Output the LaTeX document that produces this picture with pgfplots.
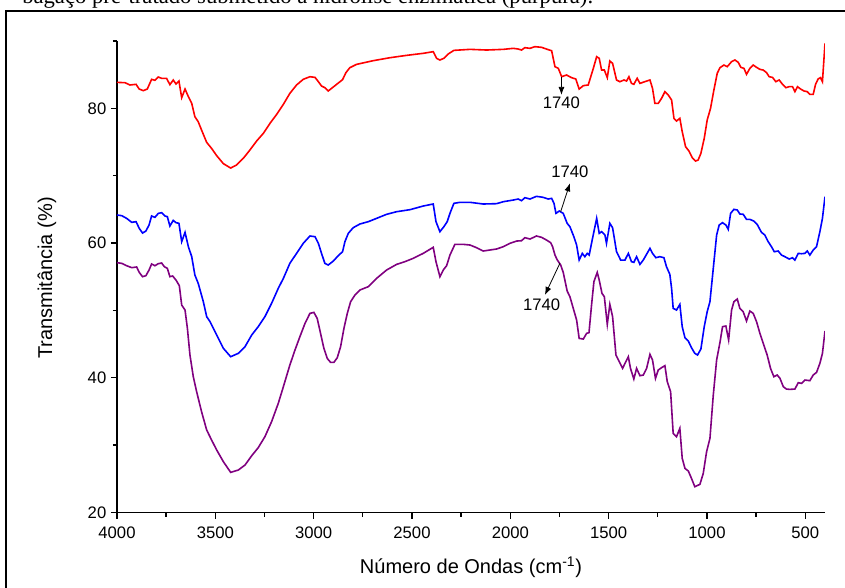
\documentclass[border=0pt]{standalone}
\usepackage{fontspec}
\setmainfont{Liberation Sans}
\newfontfamily\timesfont{Liberation Serif}
\usepackage{pgfplots}
\pgfplotsset{compat=1.18}
\usetikzlibrary{arrows.meta}
\definecolor{myred}{RGB}{255,0,0}
\definecolor{myblue}{RGB}{0,0,255}
\definecolor{mypurple}{RGB}{128,0,128}
\begin{document}
\begin{tikzpicture}
\useasboundingbox (0,0) rectangle (633.75pt,440.25pt);
\fill[white] (0,0) rectangle (633.75pt,440.25pt);
\node[anchor=base west, inner sep=0pt, font=\timesfont\fontsize{17}{20}\selectfont] at (16.5pt,437.25pt) {bagaço pré-tratado submetido à hidrólise enzimática (púrpura).};
\draw[line width=1.5pt] (4.5pt,-10pt) |- (645pt,432pt);
\begin{axis}[
  at={(87.75pt,55.875pt)}, anchor=south west, scale only axis,
  width=531pt, height=353.625pt,
  xmin=400, xmax=4000, ymin=20, ymax=90, x dir=reverse,
  axis x line*=bottom, axis y line*=left,
  axis line style={line width=1pt, -},
  xtick={500,1000,...,4000}, minor xtick={750,1250,...,3750},
  ytick={20,40,60,80}, minor ytick={30,50,70,90},
  tick align=outside, major tick length=4.5pt, minor tick length=3pt,
  every tick/.style={black, line width=1pt},
  ticklabel style={font=\fontsize{12.5}{14}\selectfont},
  xticklabel style={yshift=-3pt},
  /pgf/number format/assume math mode=true,
  /pgf/number format/1000 sep={},
]
\addplot[myred, line width=1.2pt] coordinates {(4000,83.86)(3959,83.81)(3934,83.47)(3903,83.57)(3887,82.87)(3866,82.63)(3846,82.87)(3824,84.31)(3807,84.16)(3790,84.65)(3773,84.46)(3748,84.46)(3731,83.52)(3714,84.21)(3700,83.62)(3685,84.06)(3671,81.59)(3654,82.87)(3637,81.73)(3620,80.74)(3604,78.76)(3587,78.02)(3570,76.78)(3544,74.95)(3519,74.06)(3493,72.97)(3459,71.79)(3422,71.14)(3392,71.59)(3358,72.58)(3324,73.82)(3290,75.15)(3256,76.29)(3222,77.78)(3188,79.11)(3154,80.60)(3121,82.23)(3087,83.47)(3053,84.31)(3019,84.70)(2993,84.60)(2976,83.96)(2960,83.32)(2943,83.07)(2926,82.58)(2909,82.97)(2883,83.57)(2853,84.26)(2836,85.30)(2816,86.04)(2782,86.53)(2697,87.08)(2612,87.52)(2527,87.87)(2443,88.17)(2392,88.42)(2375,87.43)(2358,87.18)(2338,87.43)(2316,88.07)(2287,88.61)(2205,88.76)(2121,88.66)(2036,88.76)(1985,88.91)(1960,88.81)(1943,88.66)(1926,89.01)(1900,88.91)(1875,89.16)(1841,89.06)(1807,88.71)(1790,88.56)(1773,86.19)(1756,85.94)(1739,84.70)(1714,84.95)(1689,84.56)(1667,84.36)(1650,82.87)(1629,83.37)(1604,83.47)(1578,85.94)(1561,87.67)(1548,87.43)(1536,85.69)(1522,85.69)(1507,84.56)(1494,87.03)(1480,86.68)(1460,84.21)(1443,83.96)(1422,84.21)(1409,84.06)(1397,84.70)(1384,83.71)(1372,83.57)(1355,84.46)(1341,83.71)(1316,83.96)(1290,84.21)(1277,82.97)(1265,80.74)(1248,80.74)(1231,81.49)(1214,82.48)(1197,81.98)(1180,81.24)(1168,78.52)(1155,78.12)(1138,78.52)(1126,76.54)(1109,74.31)(1092,73.67)(1075,72.68)(1058,72.18)(1045,72.33)(1031,73.32)(1014,75.55)(999,78.27)(982,80.00)(965,82.72)(948,85.20)(934,86.04)(914,86.43)(897,86.19)(875,86.93)(858,87.18)(841,86.83)(828,86.09)(812,85.94)(799,85.05)(782,85.94)(765,86.43)(748,86.09)(731,85.79)(714,85.69)(697,85.30)(684,84.70)(667,84.60)(650,83.96)(633,84.21)(616,83.57)(599,83.07)(582,83.22)(565,83.22)(553,82.48)(540,83.22)(524,82.87)(507,82.58)(490,82.48)(477,82.08)(460,82.08)(448,83.57)(435,84.36)(423,84.56)(413,83.96)(400,89.65)};
\addplot[myblue, line width=1.2pt] coordinates {(4000,64.17)(3976,64.07)(3951,63.67)(3925,63.08)(3903,63.18)(3887,62.19)(3870,61.49)(3853,61.79)(3837,62.68)(3824,64.02)(3807,63.82)(3790,64.41)(3773,64.51)(3756,64.02)(3744,63.92)(3731,62.53)(3714,63.37)(3700,63.03)(3685,62.93)(3671,60.21)(3654,61.59)(3637,59.46)(3620,57.98)(3604,55.26)(3587,54.02)(3561,51.30)(3544,49.07)(3527,48.33)(3493,46.35)(3459,44.37)(3422,43.13)(3383,43.63)(3349,44.62)(3315,46.35)(3282,47.59)(3248,49.07)(3214,51.05)(3180,53.28)(3154,54.76)(3121,56.99)(3087,58.47)(3053,59.96)(3019,61.05)(2993,60.95)(2976,59.96)(2960,58.47)(2943,56.99)(2926,56.74)(2900,57.33)(2875,58.13)(2853,58.72)(2841,60.21)(2824,61.44)(2799,62.28)(2765,62.83)(2722,63.18)(2680,63.67)(2629,64.27)(2578,64.66)(2510,64.96)(2443,65.50)(2392,65.80)(2378,63.18)(2358,61.69)(2338,62.43)(2321,63.18)(2307,64.41)(2287,65.90)(2256,66.05)(2205,66.05)(2138,65.80)(2070,65.85)(2036,66.14)(1985,66.39)(1960,66.54)(1943,66.29)(1926,66.74)(1900,66.54)(1867,66.94)(1833,66.79)(1807,66.54)(1790,66.64)(1778,65.90)(1768,64.41)(1751,64.76)(1731,64.41)(1711,62.93)(1697,62.43)(1677,60.95)(1663,59.71)(1650,57.48)(1634,58.47)(1621,57.98)(1609,58.47)(1599,58.22)(1582,60.70)(1561,63.67)(1548,61.44)(1536,61.69)(1519,61.20)(1511,59.96)(1494,62.93)(1480,62.28)(1460,58.72)(1439,57.48)(1417,57.48)(1400,58.47)(1384,57.24)(1372,57.14)(1358,57.98)(1341,56.84)(1324,57.48)(1290,59.22)(1277,58.47)(1260,57.83)(1240,57.98)(1219,57.83)(1206,56.49)(1189,55.36)(1180,53.28)(1172,50.31)(1155,50.06)(1138,50.90)(1126,47.59)(1112,45.95)(1095,45.46)(1079,44.47)(1062,43.63)(1048,43.38)(1031,44.27)(1014,47.59)(999,49.81)(985,51.30)(968,56.25)(951,61.20)(938,62.68)(921,63.03)(904,62.68)(892,62.04)(880,64.41)(863,65.01)(846,64.91)(833,64.32)(816,64.27)(799,63.52)(782,63.52)(762,63.27)(745,62.78)(723,61.59)(706,61.20)(689,60.21)(672,59.46)(658,58.72)(638,58.82)(621,58.22)(604,57.98)(582,57.63)(565,57.83)(553,57.48)(536,58.47)(519,58.42)(502,58.47)(490,58.82)(477,58.22)(460,58.97)(443,59.46)(426,61.69)(413,63.67)(400,66.89)};
\addplot[mypurple, line width=1.2pt] coordinates {(4000,57.09)(3976,56.99)(3951,56.64)(3925,56.35)(3900,56.45)(3887,55.65)(3870,55.01)(3853,55.16)(3837,56.00)(3824,56.89)(3807,56.64)(3790,56.94)(3773,57.04)(3759,56.49)(3744,56.25)(3731,55.01)(3717,55.11)(3700,54.51)(3683,53.67)(3671,50.80)(3654,50.06)(3642,47.34)(3629,43.38)(3612,40.16)(3595,37.93)(3570,34.97)(3544,32.25)(3519,30.76)(3493,29.28)(3459,27.54)(3422,25.96)(3383,26.31)(3349,27.05)(3315,28.43)(3282,29.62)(3248,31.25)(3214,33.48)(3180,36.20)(3154,38.68)(3121,41.89)(3095,44.12)(3070,46.10)(3044,48.08)(3019,49.56)(2999,49.71)(2982,48.82)(2965,46.60)(2948,44.37)(2931,42.88)(2914,42.29)(2897,42.29)(2880,42.98)(2863,44.62)(2846,47.34)(2829,49.56)(2812,51.30)(2790,52.29)(2765,53.03)(2722,53.53)(2680,54.76)(2629,56.00)(2578,56.84)(2536,57.24)(2494,57.73)(2443,58.47)(2392,59.37)(2378,57.24)(2358,55.01)(2341,56.00)(2324,56.64)(2307,58.22)(2282,59.81)(2239,59.81)(2205,59.71)(2172,59.32)(2138,58.82)(2104,58.97)(2070,59.12)(2036,59.46)(2002,59.96)(1968,60.30)(1943,60.35)(1926,60.80)(1900,60.60)(1867,61.05)(1841,60.85)(1816,60.45)(1795,60.06)(1785,59.46)(1773,58.22)(1761,57.48)(1744,56.74)(1731,55.65)(1711,52.88)(1697,52.04)(1680,50.31)(1663,48.58)(1650,45.85)(1629,45.75)(1612,46.60)(1600,46.70)(1587,50.80)(1575,54.27)(1558,55.65)(1548,54.51)(1534,52.54)(1522,52.04)(1507,47.93)(1494,50.90)(1480,49.07)(1463,43.38)(1446,42.39)(1429,41.40)(1417,42.14)(1400,43.13)(1389,41.40)(1372,39.82)(1358,41.40)(1341,40.31)(1324,40.41)(1307,41.40)(1290,43.48)(1277,42.64)(1262,39.92)(1248,41.15)(1231,41.50)(1214,41.80)(1202,39.42)(1185,37.93)(1172,31.75)(1155,31.25)(1138,32.49)(1126,28.04)(1112,26.55)(1095,26.16)(1079,25.07)(1062,23.83)(1036,24.18)(1019,25.81)(1002,29.03)(985,31.01)(968,37.44)(951,42.64)(934,45.26)(921,47.59)(904,47.69)(890,45.61)(875,50.06)(863,51.30)(846,51.69)(833,50.31)(816,49.81)(799,48.43)(782,49.91)(765,49.56)(748,48.33)(731,46.60)(714,45.11)(694,43.38)(677,41.40)(660,40.16)(643,40.41)(629,39.92)(612,38.68)(596,38.33)(579,38.28)(553,38.33)(536,39.27)(519,39.17)(502,39.67)(477,39.57)(460,40.41)(443,40.80)(426,42.14)(413,43.63)(400,46.94)};
\draw[-{Latex[length=6pt,width=4.5pt]}, line width=0.6pt] (axis cs:1740,84.7) -- (axis cs:1740,82.0);
\node[font=\fontsize{12.5}{14}\selectfont] at (axis cs:1740,80.8) {1740};
\draw[-{Latex[length=6pt,width=4.5pt]}, line width=0.6pt] (axis cs:1744,64.66) -- (axis cs:1697,68.87);
\node[font=\fontsize{12.5}{14}\selectfont] at (axis cs:1697,70.6) {1740};
\draw[-{Latex[length=6pt,width=4.5pt]}, line width=0.6pt] (axis cs:1748,57.0) -- (axis cs:1824,52.3);
\node[font=\fontsize{12.5}{14}\selectfont] at (axis cs:1841,50.8) {1740};
\end{axis}
\node[font=\fontsize{15}{18}\selectfont] at (353.25pt,15pt) {Número de Ondas (cm\textsuperscript{-1})};
\node[rotate=90, font=\fontsize{15}{18}\selectfont] at (35.25pt,231.75pt) {Transmitância (\%)};
\end{tikzpicture}
\end{document}
